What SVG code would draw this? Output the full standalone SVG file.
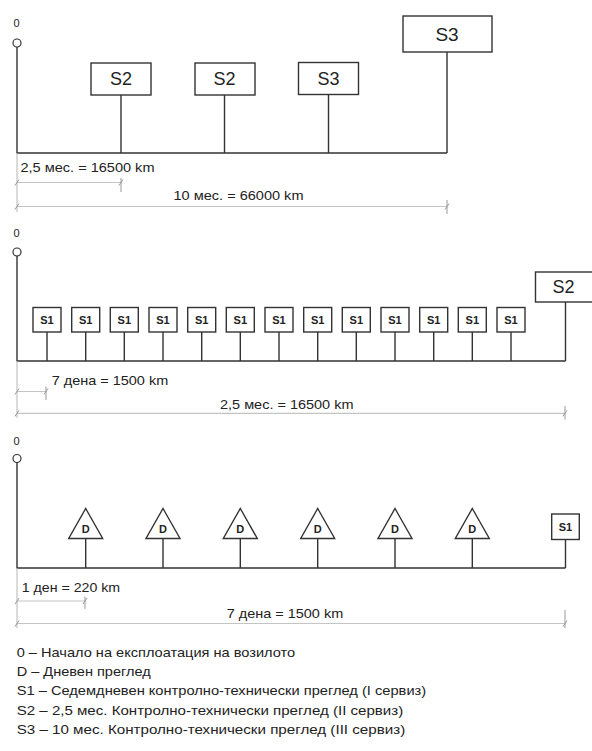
<svg xmlns="http://www.w3.org/2000/svg" width="592" height="751" viewBox="0 0 592 751">
<style>
.ln{stroke:#333;stroke-width:1.4;fill:none}
.bx{stroke:#333;stroke-width:1.4;fill:#fff}
.org{stroke:#333;stroke-width:1.2;fill:#fff}
.dim{stroke:#c4c4c4;stroke-width:1.2;fill:none}
.tk{stroke:#999;stroke-width:1;fill:none}
text{font-family:"Liberation Sans",Arial,sans-serif;fill:#222}
.lab{font-size:13px}
.big{font-size:18px;text-anchor:middle}
.sm{font-size:11px;font-weight:bold;text-anchor:middle}
.zero{font-size:11px;text-anchor:middle}
</style>
<rect width="592" height="751" fill="#fff"/>

<!-- ===== Section 1 ===== -->
<g id="origin1">
<text class="zero" x="16.5" y="27">0</text>
<circle class="org" cx="17" cy="43" r="4"/>
</g>
<g id="connectors1">
<path class="ln" d="M17 47V153H447M121 95V153M224.5 95V153M328.5 95V153M447 52V153"/>
</g>
<g id="s2a"><rect class="bx" x="91" y="63" width="60" height="32"/><text class="big" x="121" y="85">S2</text></g>
<g id="s2b"><rect class="bx" x="195" y="63" width="60" height="32"/><text class="big" x="224.5" y="85">S2</text></g>
<g id="s3a"><rect class="bx" x="298.5" y="62.5" width="60" height="32"/><text class="big" x="328.5" y="85">S3</text></g>
<g id="s3b"><rect class="bx" x="403" y="16" width="89" height="36"/><text class="big" x="447" y="40.5" style="font-size:19px">S3</text></g>
<g id="dims1">
<path class="dim" d="M17 153V212M17 182.5H121M17 206.5H447"/>
<path class="tk" d="M121 178V192M447 200V214M15 185.5L19 179.5M119 185.5L123 179.5M15 209.5L19 203.5M445 209.5L449 203.5"/>
<text class="lab" x="20.5" y="172" textLength="134" lengthAdjust="spacingAndGlyphs">2,5 мес. = 16500 km</text>
<text class="lab" x="173.5" y="200" textLength="130" lengthAdjust="spacingAndGlyphs">10 мес. = 66000 km</text>
</g>

<!-- ===== Section 2 ===== -->
<g id="origin2">
<text class="zero" x="16.5" y="237">0</text>
<circle class="org" cx="17" cy="252" r="4"/>
</g>
<g id="connectors2">
<path class="ln" d="M17 256V361H565.5M565.5 302V361M47 332V361M85.7 332V361M124.3 332V361M163 332V361M201.7 332V361M240.3 332V361M279 332V361M317.7 332V361M356.3 332V361M395 332V361M433.7 332V361M472.3 332V361M511 332V361"/>
</g>
<g id="s1-1"><rect class="bx" x="33" y="307.5" width="28" height="24.5"/><text class="sm" x="47" y="323.5">S1</text></g>
<g id="s1-2"><rect class="bx" x="71.7" y="307.5" width="28" height="24.5"/><text class="sm" x="85.7" y="323.5">S1</text></g>
<g id="s1-3"><rect class="bx" x="110.3" y="307.5" width="28" height="24.5"/><text class="sm" x="124.3" y="323.5">S1</text></g>
<g id="s1-4"><rect class="bx" x="149" y="307.5" width="28" height="24.5"/><text class="sm" x="163" y="323.5">S1</text></g>
<g id="s1-5"><rect class="bx" x="187.7" y="307.5" width="28" height="24.5"/><text class="sm" x="201.7" y="323.5">S1</text></g>
<g id="s1-6"><rect class="bx" x="226.3" y="307.5" width="28" height="24.5"/><text class="sm" x="240.3" y="323.5">S1</text></g>
<g id="s1-7"><rect class="bx" x="265" y="307.5" width="28" height="24.5"/><text class="sm" x="279" y="323.5">S1</text></g>
<g id="s1-8"><rect class="bx" x="303.7" y="307.5" width="28" height="24.5"/><text class="sm" x="317.7" y="323.5">S1</text></g>
<g id="s1-9"><rect class="bx" x="342.3" y="307.5" width="28" height="24.5"/><text class="sm" x="356.3" y="323.5">S1</text></g>
<g id="s1-10"><rect class="bx" x="381" y="307.5" width="28" height="24.5"/><text class="sm" x="395" y="323.5">S1</text></g>
<g id="s1-11"><rect class="bx" x="419.7" y="307.5" width="28" height="24.5"/><text class="sm" x="433.7" y="323.5">S1</text></g>
<g id="s1-12"><rect class="bx" x="458.3" y="307.5" width="28" height="24.5"/><text class="sm" x="472.3" y="323.5">S1</text></g>
<g id="s1-13"><rect class="bx" x="497" y="307.5" width="28" height="24.5"/><text class="sm" x="511" y="323.5">S1</text></g>
<g id="s2c"><rect class="bx" x="535.5" y="272" width="60" height="30"/><text class="big" x="563.5" y="293">S2</text></g>
<g id="dims2">
<path class="dim" d="M17 361V418M17 391.5H46.5M17 413.3H565"/>
<path class="tk" d="M46 386.5V400M565 406V419.5M15 394.5L19 388.5M44 394.5L48 388.5M15 416.3L19 410.3M563 416.3L567 410.3"/>
<text class="lab" x="51.7" y="385" textLength="116.5" lengthAdjust="spacingAndGlyphs">7 дена = 1500 km</text>
<text class="lab" x="220" y="409" textLength="133.5" lengthAdjust="spacingAndGlyphs">2,5 мес. = 16500 km</text>
</g>

<!-- ===== Section 3 ===== -->
<g id="origin3">
<text class="zero" x="16.5" y="445">0</text>
<circle class="org" cx="17" cy="458.5" r="4"/>
</g>
<g id="connectors3">
<path class="ln" d="M17 462.5V568H565.5M565.5 539.5V568M85.7 538.5V568M163 538.5V568M240.3 538.5V568M317.7 538.5V568M395 538.5V568M472.3 538.5V568"/>
</g>
<g id="d1"><path class="bx" d="M85.7 508.5L102.7 538.5H68.7Z"/><text class="sm" x="85.7" y="533">D</text></g>
<g id="d2"><path class="bx" d="M163 508.5L180 538.5H146Z"/><text class="sm" x="163" y="533">D</text></g>
<g id="d3"><path class="bx" d="M240.3 508.5L257.3 538.5H223.3Z"/><text class="sm" x="240.3" y="533">D</text></g>
<g id="d4"><path class="bx" d="M317.7 508.5L334.7 538.5H300.7Z"/><text class="sm" x="317.7" y="533">D</text></g>
<g id="d5"><path class="bx" d="M395 508.5L412 538.5H378Z"/><text class="sm" x="395" y="533">D</text></g>
<g id="d6"><path class="bx" d="M472.3 508.5L489.3 538.5H455.3Z"/><text class="sm" x="472.3" y="533">D</text></g>
<g id="s1-end"><rect class="bx" x="551.7" y="514" width="27.6" height="25.5"/><text class="sm" x="565.5" y="530.5">S1</text></g>
<g id="dims3">
<path class="dim" d="M17 568V628M17 601H85.5M17 623.5H565"/>
<path class="tk" d="M85 596.5V609M565 610V628M15 604L19 598M83 604L87 598M15 626.5L19 620.5M563 626.5L567 620.5"/>
<text class="lab" x="21.7" y="591.5" textLength="98.5" lengthAdjust="spacingAndGlyphs">1 ден = 220 km</text>
<text class="lab" x="226.7" y="618" textLength="116.5" lengthAdjust="spacingAndGlyphs">7 дена = 1500 km</text>
</g>

<!-- ===== Legend ===== -->
<g id="legend">
<text class="lab" x="16.7" y="656.5" textLength="278.5" lengthAdjust="spacingAndGlyphs">0 – Начало на експлоатация на возилото</text>
<text class="lab" x="16.7" y="675.5" textLength="134" lengthAdjust="spacingAndGlyphs">D – Дневен преглед</text>
<text class="lab" x="16.7" y="695" textLength="409.5" lengthAdjust="spacingAndGlyphs">S1 – Седемдневен контролно-технически преглед (I сервиз)</text>
<text class="lab" x="16.7" y="714.5" textLength="386.5" lengthAdjust="spacingAndGlyphs">S2 – 2,5 мес. Контролно-технически преглед (II сервиз)</text>
<text class="lab" x="16.7" y="733.5" textLength="388.5" lengthAdjust="spacingAndGlyphs">S3 – 10 мес. Контролно-технически преглед (III сервиз)</text>
</g>
</svg>
